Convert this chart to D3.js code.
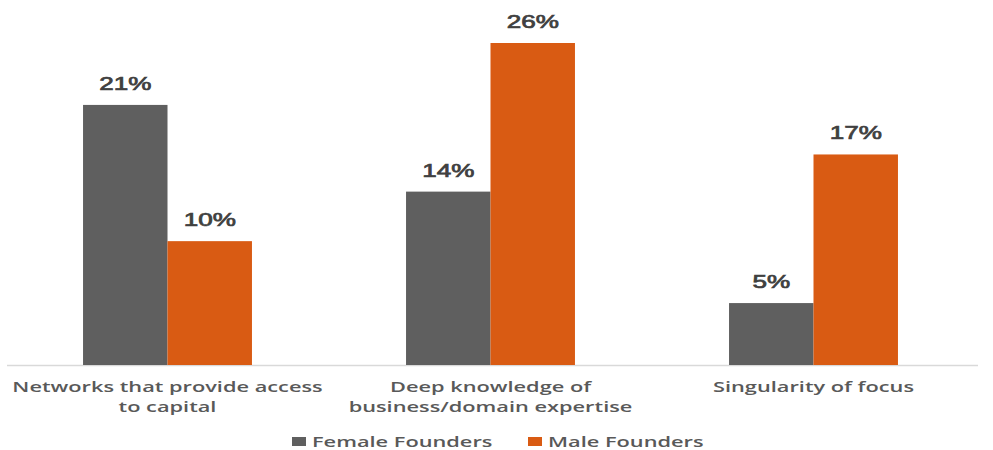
<!DOCTYPE html>
<html>
<head>
<meta charset="utf-8">
<script src="https://cdn.jsdelivr.net/npm/d3@7"></script>
<style>
body { margin: 0; background: #fff; }
svg { display: block; }
</style>
</head>
<body>
<svg id="chart" width="993" height="450"></svg>
<script>
// chart data
var categories = [
	["Networks that provide access", "to capital"],
	["Deep knowledge of", "business/domain expertise"],
	["Singularity of focus"]
];
var seriesNames = ["Female Founders", "Male Founders"];
var female = [21, 14, 5];
var male = [10, 26, 17];
var colors = ["#5f5f5f", "#d95b13"];

var LEFT = 6, RIGHT = 975, BASE = 365, TOP = 43;
// the source picture is stretched sideways, so text gets the same stretch
var STRETCH_VAL = 1.45, STRETCH_TXT = 1.555;

var svg = d3.select("#chart");

var x0 = d3.scaleBand()
	.domain(d3.range(categories.length))
	.range([LEFT, RIGHT])
	.paddingInner(0.477)
	.paddingOuter(0.2385);

var x1 = d3.scaleBand()
	.domain(d3.range(seriesNames.length))
	.range([0, x0.bandwidth()]);

var y = d3.scaleLinear()
	.domain([0, 26])
	.range([BASE, TOP]);

// stretched text helper
function stretchText(parent, x, yy, sx, str)
{
	return parent.append("text")
		.attr("transform", "translate(" + x + "," + yy + ") scale(" + sx + ",1)")
		.text(str);
}

// baseline
svg.append("line")
	.attr("x1", 7).attr("x2", 978)
	.attr("y1", BASE + 0.5).attr("y2", BASE + 0.5)
	.attr("stroke", "#d9d9d9")
	.attr("stroke-width", 1.5);

var rows = categories.map(function(c, i) { return [female[i], male[i]]; });

var groups = svg.selectAll("g.group")
	.data(rows)
	.enter()
	.append("g")
	.attr("class", "group")
	.attr("transform", function(d, i) { return "translate(" + x0(i) + ",0)"; });

groups.selectAll("rect")
	.data(function(d) { return d; })
	.enter()
	.append("rect")
	.attr("x", function(d, j) { return x1(j); })
	.attr("y", function(d) { return y(d); })
	.attr("width", x1.bandwidth())
	.attr("height", function(d) { return BASE - y(d); })
	.attr("fill", function(d, j) { return colors[j]; });

groups.each(function(d) {
	var g = d3.select(this);
	d.forEach(function(v, j) {
		stretchText(g, x1(j) + x1.bandwidth() / 2, y(v) - 15, STRETCH_VAL, v + "%")
			.attr("text-anchor", "middle")
			.attr("font-family", "Liberation Sans, Arial, sans-serif")
			.attr("font-size", "18px")
			.attr("fill", "#404040")
			.attr("stroke", "#404040")
			.attr("stroke-width", 0.7);
	});
});

// category labels
categories.forEach(function(lines, i) {
	lines.forEach(function(line, k) {
		stretchText(svg, x0(i) + x0.bandwidth() / 2, 392 + k * 20, STRETCH_TXT, line)
			.attr("text-anchor", "middle")
			.attr("font-family", "Open Sans, sans-serif")
			.attr("font-weight", 600)
			.attr("font-size", "14px")
			.attr("fill", "#595959");
	});
});

// legend
var legendX = [292, 528];
seriesNames.forEach(function(name, i) {
	svg.append("rect")
		.attr("x", legendX[i]).attr("y", 437)
		.attr("width", 14).attr("height", 9)
		.attr("fill", colors[i]);
	stretchText(svg, legendX[i] + 20, 447, STRETCH_TXT, name)
		.attr("font-family", "Open Sans, sans-serif")
		.attr("font-weight", 600)
		.attr("font-size", "14px")
		.attr("fill", "#595959");
});
</script>
</body>
</html>
